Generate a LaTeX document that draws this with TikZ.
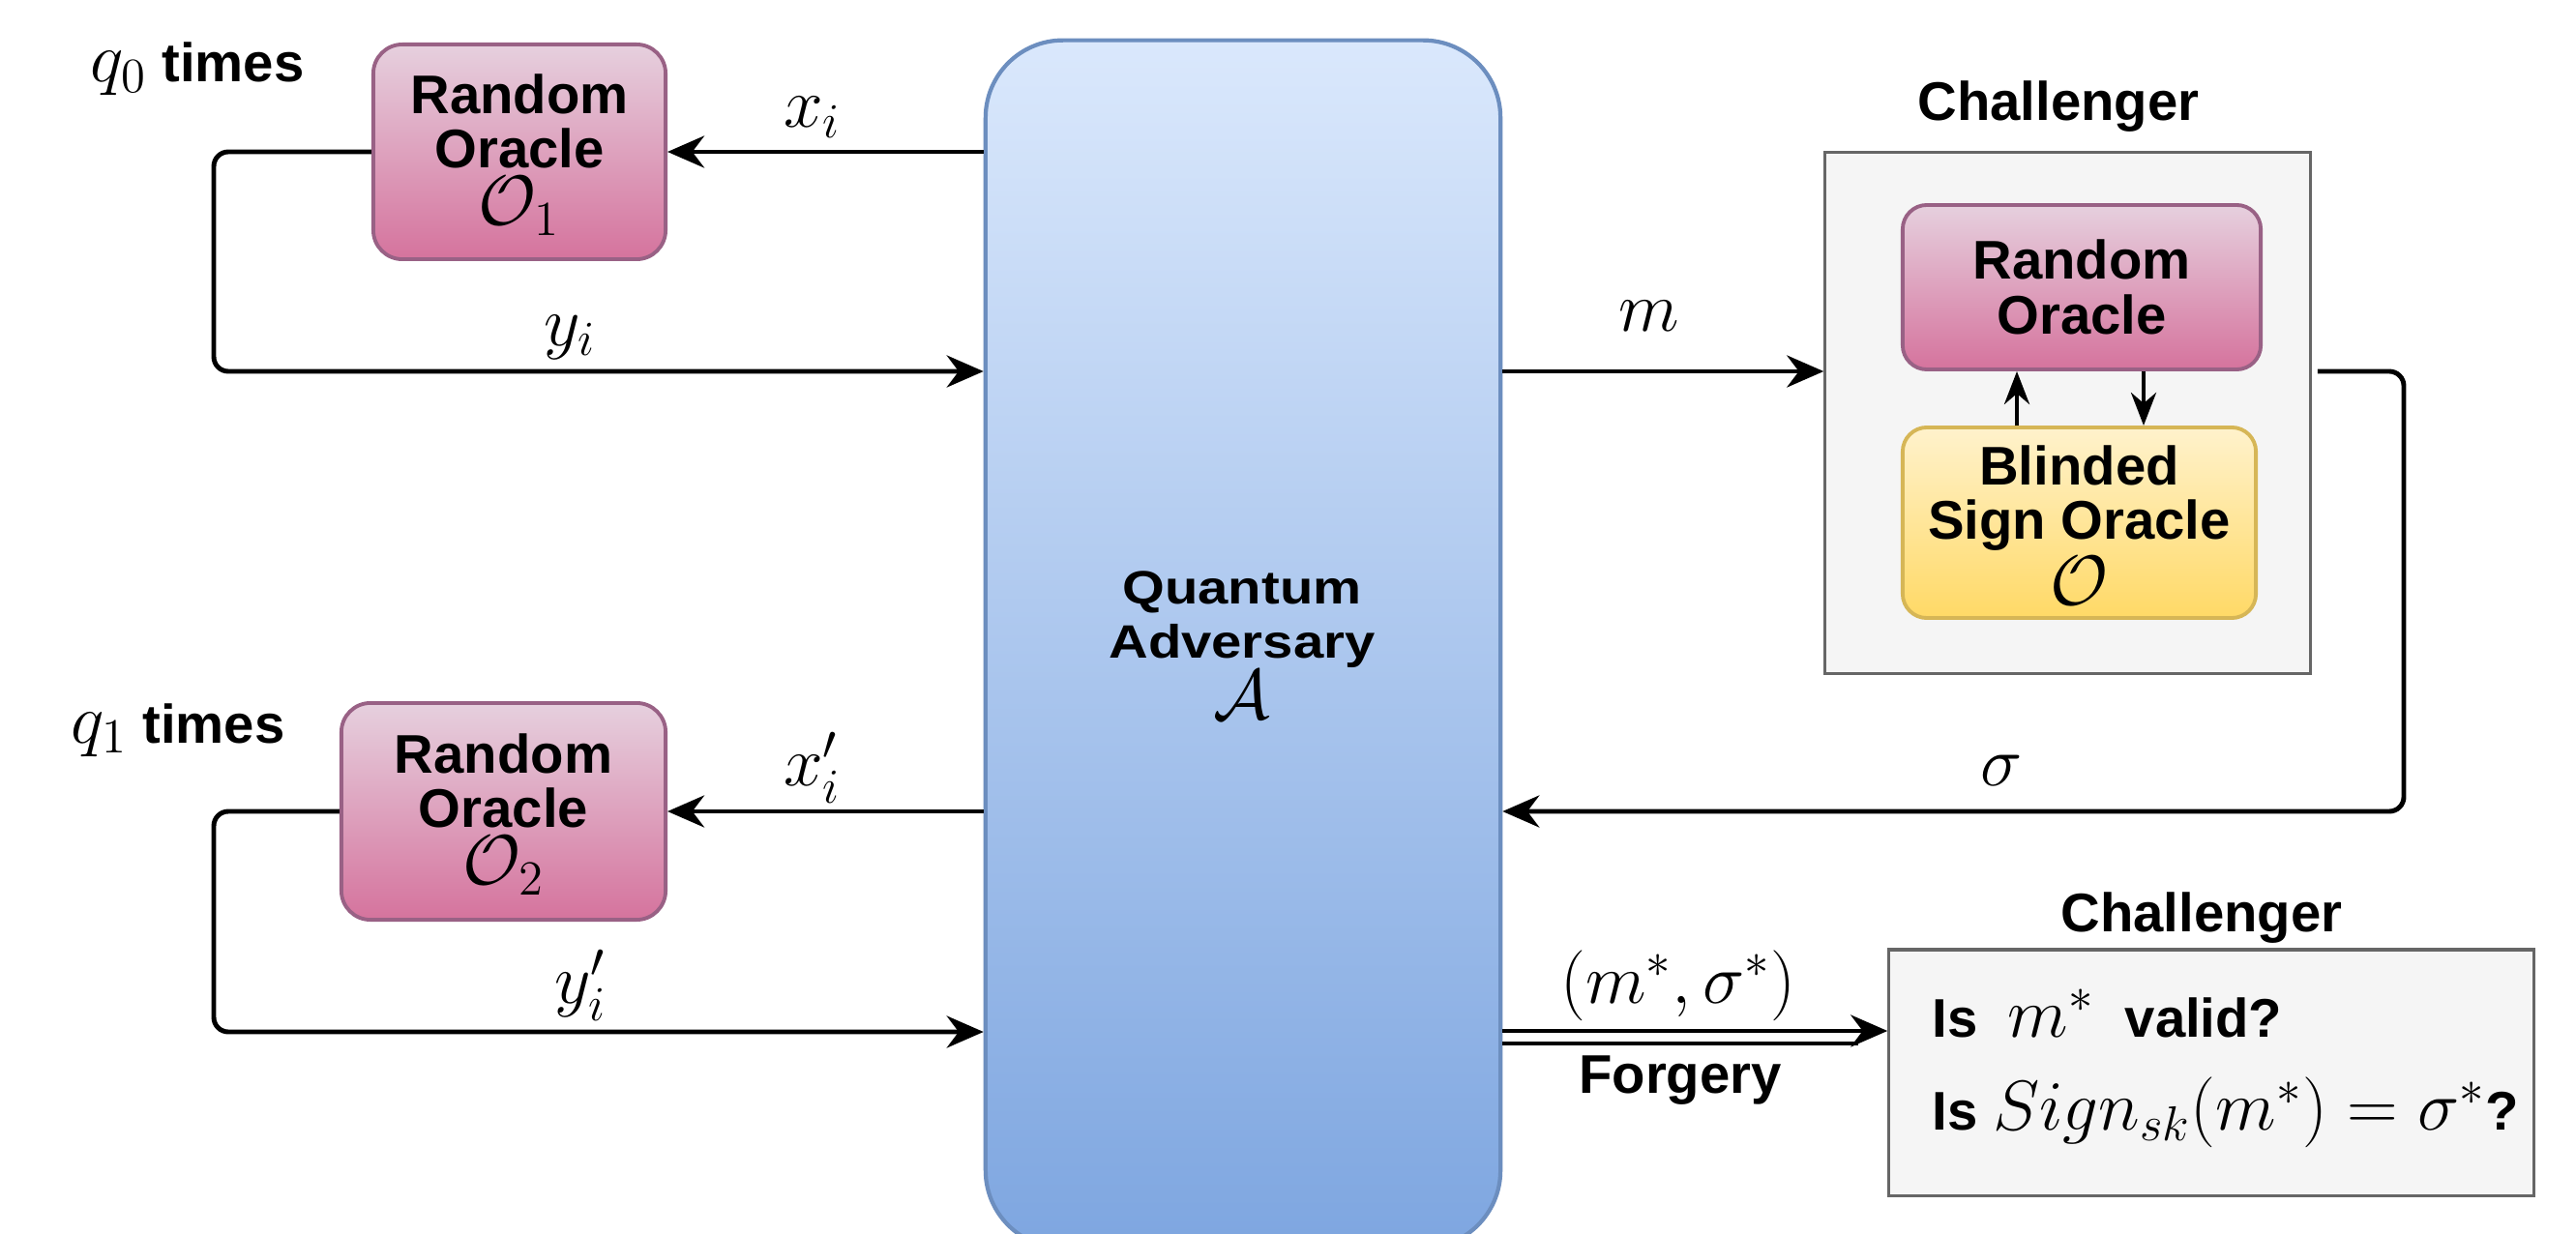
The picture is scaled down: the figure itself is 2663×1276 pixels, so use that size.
\documentclass[tikz,border=0pt]{standalone}
\usepackage{fontspec}
\setmainfont{Liberation Sans}
\usepackage{graphicx}
\usetikzlibrary{arrows.meta}
\definecolor{roTop}{HTML}{E6D0DE}
\definecolor{roBot}{HTML}{D5739D}
\definecolor{roLine}{HTML}{996185}
\definecolor{advTop}{HTML}{DAE8FC}
\definecolor{advBot}{HTML}{7EA6E0}
\definecolor{advLine}{HTML}{6C8EBF}
\definecolor{bsoTop}{HTML}{FFF2CC}
\definecolor{bsoBot}{HTML}{FFD966}
\definecolor{bsoLine}{HTML}{D6B656}
\definecolor{chFill}{HTML}{F5F5F5}
\definecolor{chLine}{HTML}{666666}
\newcommand{\mth}[1]{{\fontsize{20}{20}\selectfont$#1$}}
\newcommand{\squash}[1]{\scalebox{1}[0.86]{#1}}
\begin{document}
\begin{tikzpicture}[x=0.01cm,y=-0.01cm,
  base/.style={font=\fontsize{16}{16}\selectfont\bfseries, inner sep=0pt, align=center},
  ro/.style={base, draw=roLine, line width=1.1pt, rounded corners=0.3cm, top color=roTop, bottom color=roBot},
  bso/.style={base, draw=bsoLine, line width=1.1pt, rounded corners=0.25cm, top color=bsoTop, bottom color=bsoBot},
  adv/.style={base, draw=advLine, line width=1.2pt, rounded corners=0.8cm, top color=advTop, bottom color=advBot},
  chal/.style={draw=chLine, line width=0.9pt, fill=chFill, inner sep=0pt},
  lbl/.style={inner sep=0pt, font=\fontsize{20}{20}\selectfont},
  arr/.style={line width=1.4pt, -{Stealth[length=0.38cm,width=0.33cm]}},
  iarr/.style={line width=1.3pt, -{Stealth[length=0.34cm,width=0.26cm]}}
]
\useasboundingbox (0,0) rectangle (2663,1276);

% boxes
\node[ro, minimum width=3.02cm, minimum height=2.22cm] (o1) at (537,157) {};
\node[base] (o1txt) at (537,160) {Random\\Oracle\\[0.03cm]\mth{\mathcal{O}_1}};
\node[ro, minimum width=3.35cm, minimum height=2.24cm] (o2) at (520.5,839) {};
\node[base] (o2txt) at (520.5,842) {Random\\Oracle\\[0.03cm]\mth{\mathcal{O}_2}};
\node[adv, minimum width=5.32cm, minimum height=12.48cm] (adv) at (1285,666) {};
\node[base] (advtxt) at (1284,667) {\squash{Quantum}\\\squash{Adversary}\\[0.0cm]\mth{\mathcal{A}}};
\node[chal, minimum width=5.01cm, minimum height=5.38cm] (ch1) at (2137.5,427) {};
\node[ro, rounded corners=0.25cm, minimum width=3.70cm, minimum height=1.70cm] (ro3) at (2152,297) {Random\\Oracle};
\node[bso, minimum width=3.65cm, minimum height=1.97cm] (bso) at (2149.5,540.5) {};
\node[base] (bsotxt) at (2149.5,543) {Blinded\\Sign Oracle\\[0.03cm]\mth{\mathcal{O}}};
\node[chal, minimum width=6.66cm, minimum height=2.54cm] (ch2) at (2286,1109) {};
\node[base, anchor=west, align=left, font=\fontsize{16}{27.3}\selectfont\bfseries] (chk) at (1997,1105) {Is \ \mth{m^*} \ valid?\\Is \mth{Sign_{sk}(m^*)=\sigma^*}?};

% titles
\node[base, anchor=base] (chl1) at (2128,125) {Challenger};
\node[base, anchor=base] (chl2) at (2276,963) {Challenger};
\node[base, anchor=base] (q0) at (204,85) {\mth{q_0} times};
\node[base, anchor=base] (q1) at (184,768) {\mth{q_1} times};

% connectors
\draw[arr] (adv.west |- o1.east) -- (o1.east);
\draw[arr, rounded corners=0.15cm] (o1.west) -- (221,157) -- (221,384) -- (adv.west |- 0,384);
\draw[arr] (adv.west |- o2.east) -- (o2.east);
\draw[arr, rounded corners=0.15cm] (o2.west) -- (221,839) -- (221,1067) -- (adv.west |- 0,1067);
\draw[arr] (adv.east |- 0,384) -- (ch1.west |- 0,384);
\draw[arr, rounded corners=0.15cm] ([xshift=0.06cm]ch1.east |- 0,384) -- (2485,384) -- (2485,839) -- (adv.east |- 0,839);
\draw[iarr] (bso.north -| 2085,0) -- (ro3.south -| 2085,0);
\draw[iarr] (ro3.south -| 2216,0) -- (bso.north -| 2216,0);
\draw[arr] (adv.east |- 0,1066) -- (ch2.west |- 0,1066);
\draw[line width=0.9pt] (adv.east |- 0,1079) -- (1921,1079);

% labels
\node[lbl, anchor=base] (lxi) at (840,132) {$x_i$};
\node[lbl, anchor=base] (lyi) at (589,357) {$y_i$};
\node[lbl, anchor=base] (lxi2) at (840,812) {$x_i'$};
\node[lbl, anchor=base] (lyi2) at (600,1037) {$y_i'$};
\node[lbl, anchor=base] (lm) at (1705,343) {$m$};
\node[lbl, anchor=base] (ls) at (2069,812) {$\sigma$};
\node[lbl] (lms) at (1735,1019) {$(m^*,\sigma^*)$};
\node[base, anchor=base] (lf) at (1737,1130) {Forgery};
\end{tikzpicture}
\end{document}
